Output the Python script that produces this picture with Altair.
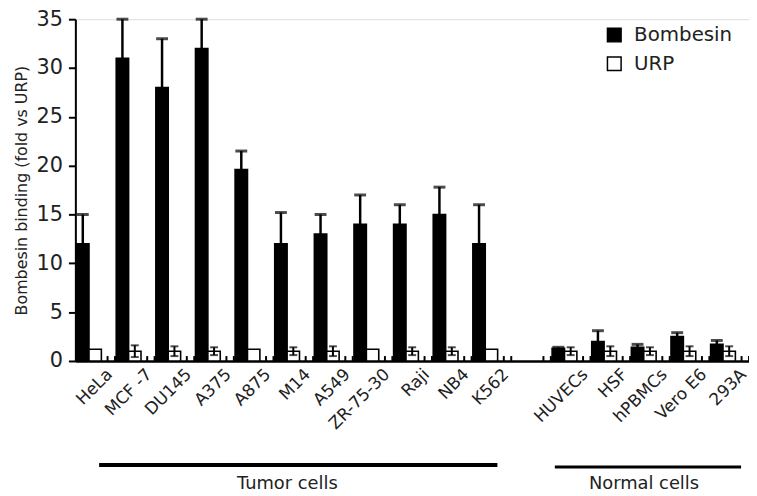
import altair as alt
import pandas as pd

FONT = "DejaVu Sans"

tumor_cells = ["HeLa", "MCF -7", "DU145", "A375", "A875", "M14", "A549", "ZR-75-30", "Raji", "NB4", "K562"]
normal_cells = ["HUVECs", "HSF", "hPBMCs", "Vero E6", "293A"]
gap = " "
slots = tumor_cells + [gap] + normal_cells

bombesin = [12, 31, 28, 32, 19.6, 12, 13, 14, 14, 15, 12, 1.3, 2.0, 1.4, 2.5, 1.7]
bombesin_err = [3, 4, 5, 3, 1.9, 3.2, 2, 3, 2, 2.8, 4, 0.1, 1.1, 0.3, 0.4, 0.4]
urp = [1.2, 1.0, 1.0, 1.0, 1.2, 1.0, 1.0, 1.2, 1.0, 1.0, 1.2, 1.0, 1.0, 1.0, 1.0, 1.0]
urp_err = [0, 0.6, 0.5, 0.4, 0, 0.4, 0.5, 0, 0.4, 0.4, 0, 0.4, 0.5, 0.4, 0.5, 0.5]

y_ticks = [0, 5, 10, 15, 20, 25, 30, 35]
series = ["Bombesin", "URP"]
offset_domain = ["Bombesin", "URP", "_"]

cells = tumor_cells + normal_cells
rows = []
for i, c in enumerate(cells):
    rows.append({"cell": c, "series": "Bombesin", "value": bombesin[i], "err": bombesin_err[i],
                 "lo": bombesin[i], "hi": bombesin[i] + bombesin_err[i]})
    rows.append({"cell": c, "series": "URP", "value": urp[i], "err": urp_err[i],
                 "lo": urp[i] - urp_err[i], "hi": urp[i] + urp_err[i]})
df = pd.DataFrame(rows)
df_b = df[df.series == "Bombesin"]
df_u = df[(df.series == "URP") & (df.err > 0)]

tick_df = pd.DataFrame({"cell": slots, "series": "_", "y0": 0.0, "y1": 0.5})

groups = pd.DataFrame({
    "start": [tumor_cells[0], normal_cells[0]],
    "end": [tumor_cells[-1], normal_cells[-1]],
    "mid": [tumor_cells[5], normal_cells[2]],
    "label": ["Tumor cells", "Normal cells"],
})

xscale = alt.Scale(domain=slots, paddingInner=0, paddingOuter=0)
oscale = alt.Scale(domain=offset_domain, paddingInner=0, paddingOuter=0.1)
yscale = alt.Scale(domain=[0, 35], nice=False)

X = alt.X("cell:N", scale=xscale, sort=slots,
          axis=alt.Axis(title=None, labelAngle=-45, labelFontSize=17, ticks=False,
                        domainColor="black", domainWidth=2.5, labelColor="#222",
                        labelPadding=5, labelOffset=9, labelFont=FONT))
XO = alt.XOffset("series:N", scale=oscale)
Y = alt.Y("value:Q", scale=yscale,
          axis=alt.Axis(values=y_ticks, title="Bombesin binding (fold vs URP)", titleFontSize=16,
                        titleFontWeight="normal", titleColor="#222", titlePadding=7,
                        labelFontSize=21, labelColor="#222", labelPadding=6, tickSize=7,
                        tickWidth=2, tickColor="black", domainColor="black", domainWidth=2,
                        grid=False, labelFont=FONT, titleFont=FONT))

bars = alt.Chart(df).mark_bar(stroke="black", strokeWidth=1.6).encode(
    x=X, xOffset=XO, y=Y,
    fill=alt.Fill("series:N", scale=alt.Scale(domain=series, range=["#000000", "#ffffff"]),
                  legend=alt.Legend(orient="none", legendX=534, legendY=6, title=None,
                                    symbolType="square", symbolSize=190, symbolStrokeColor="black",
                                    symbolStrokeWidth=1.5, labelFontSize=20, labelColor="#222",
                                    labelFont=FONT, rowPadding=9, labelOffset=10, padding=0)),
)

b_rule = alt.Chart(df_b).mark_rule(color="black", strokeWidth=2.5).encode(
    x=alt.X("cell:N", scale=xscale, sort=slots), xOffset=XO,
    y=alt.Y("lo:Q", scale=yscale), y2="hi:Q")
b_cap = alt.Chart(df_b).mark_tick(color="black", thickness=3, size=12).encode(
    x=alt.X("cell:N", scale=xscale, sort=slots), xOffset=XO,
    y=alt.Y("hi:Q", scale=yscale))

u_rule = alt.Chart(df_u).mark_rule(color="black", strokeWidth=2).encode(
    x=alt.X("cell:N", scale=xscale, sort=slots), xOffset=XO,
    y=alt.Y("lo:Q", scale=yscale), y2="hi:Q")
u_cap_hi = alt.Chart(df_u).mark_tick(color="black", thickness=2, size=8).encode(
    x=alt.X("cell:N", scale=xscale, sort=slots), xOffset=XO,
    y=alt.Y("hi:Q", scale=yscale))
u_cap_lo = alt.Chart(df_u).mark_tick(color="black", thickness=2, size=8).encode(
    x=alt.X("cell:N", scale=xscale, sort=slots), xOffset=XO,
    y=alt.Y("lo:Q", scale=yscale))

ticks_a = alt.Chart(tick_df).mark_rule(color="black", strokeWidth=2).encode(
    x=alt.X("cell:N", scale=xscale, sort=slots), xOffset=alt.XOffset("series:N", scale=oscale),
    y=alt.Y("y0:Q", scale=yscale), y2="y1:Q")
ticks_b = alt.Chart(tick_df).mark_rule(color="black", strokeWidth=2).encode(
    x=alt.X("cell:N", scale=xscale, sort=slots, bandPosition=1),
    y=alt.Y("y0:Q", scale=yscale), y2="y1:Q")

tumor_line = alt.Chart(groups.iloc[[0]]).mark_rule(color="black", strokeWidth=4).encode(
    x=alt.X("start:N", scale=xscale, sort=slots, bandPosition=0.6),
    x2=alt.X2("end:N", bandPosition=0.65),
    y=alt.value(450))
normal_line = alt.Chart(groups.iloc[[1]]).mark_rule(color="black", strokeWidth=3).encode(
    x=alt.X("start:N", scale=xscale, sort=slots, bandPosition=0.1),
    x2=alt.X2("end:N", bandPosition=0.8),
    y=alt.value(452))
gtext = alt.Chart(groups).mark_text(fontSize=18, font=FONT, color="#222", baseline="middle", dx=-6).encode(
    x=alt.X("mid:N", scale=xscale, sort=slots), text="label:N", y=alt.value(469))

chart = alt.layer(bars, b_rule, b_cap, u_rule, u_cap_hi, u_cap_lo, ticks_a, ticks_b,
                  tumor_line, normal_line, gtext).properties(
    width=680, height=345,
    autosize=alt.AutoSizeParams(type="none"),
    padding={"left": 68, "top": 9, "right": 0, "bottom": 134},
).configure_view(stroke=None).configure(font=FONT)

chart.save("out.html", embed_options={"renderer": "svg", "actions": False})
